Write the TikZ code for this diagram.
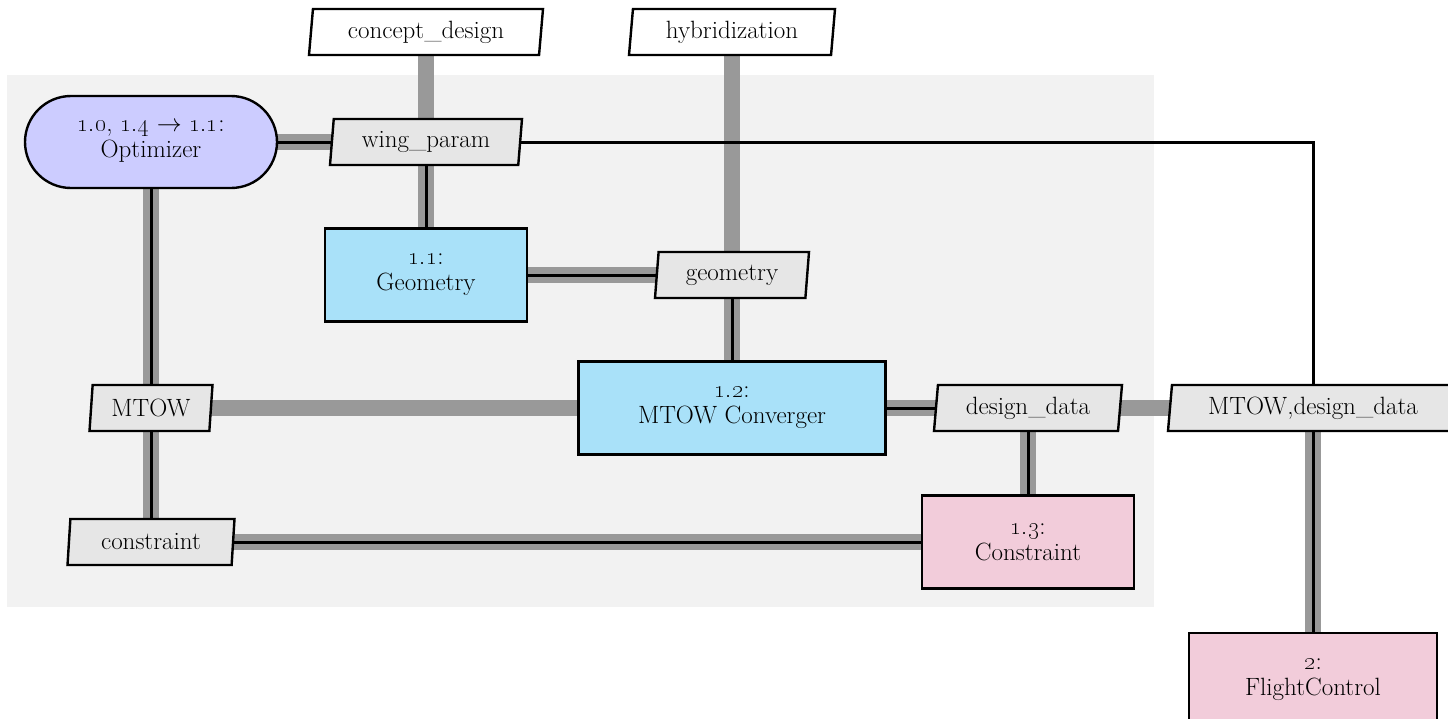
\documentclass[tikz,border=0pt]{standalone}
\usetikzlibrary{shapes.geometric}
\definecolor{panelc}{HTML}{F2F2F2}
\definecolor{optc}{HTML}{CCCCFF}
\definecolor{funcc}{HTML}{A9E1F9}
\definecolor{grpc}{HTML}{F2CCDA}
\definecolor{datac}{HTML}{E6E6E6}
\definecolor{linec}{HTML}{999999}
\pgfdeclarelayer{back}
\pgfdeclarelayer{edges}
\pgfsetlayers{back,edges,main}
\newcommand\osn[1]{\oldstylenums{#1}}

\begin{document}
\begin{tikzpicture}[x=1pt, y=-1pt,
  font=\fontsize{25}{26}\selectfont,
  blk/.style={draw=black, line width=2.4pt, align=center, inner sep=0pt},
  optbox/.style={blk, rectangle, rounded corners=46pt, fill=optc,
    minimum width=252pt, minimum height=92pt},
  funcbox/.style={blk, rectangle, fill=funcc, minimum height=93pt},
  grpbox/.style={blk, rectangle, fill=grpc, minimum height=93pt},
  databox/.style={blk, trapezium, trapezium left angle=80,
    trapezium right angle=100, trapezium stretches body,
    fill=datac, minimum height=46pt},
  inbox/.style={databox, fill=white},
  dline/.style={draw=linec, line width=16pt},
  pline/.style={draw=black, line width=3pt},
]
\useasboundingbox (0,0) rectangle (1448,718);

% inputs
\node[inbox, minimum width=234pt] (cd) at (426,32) {concept\_design};
\node[inbox, minimum width=206pt] (hy) at (732,32) {hybridization};

% optimizer row
\node[optbox] (opt) at (151,142) {\osn{1.0}, \osn{1.4} $\rightarrow$ \osn{1.1}:\\Optimizer};
\node[databox, minimum width=192pt] (wing) at (426,142) {wing\_param};

% geometry row
\node[funcbox, minimum width=202pt] (geo) at (426,275) {\osn{1.1}:\\Geometry};
\node[databox, minimum width=154pt] (geom) at (732,275) {geometry};

% converger row
\node[databox, minimum width=123pt] (mtow) at (151,408) {MTOW};
\node[funcbox, minimum width=307pt] (conv) at (732,408) {\osn{1.2}:\\MTOW Converger};
\node[databox, minimum width=188pt] (dd) at (1028,408) {design\_data};
\node[databox, minimum width=290pt] (mdd) at (1313,408) {MTOW,design\_data};

% constraint row
\node[databox, minimum width=167pt] (con) at (151,542) {constraint};
\node[grpbox, minimum width=212pt] (cbox) at (1028,542) {\osn{1.3}:\\Constraint};

% flight control
\node[grpbox, minimum width=248pt, minimum height=94pt] (fc) at (1313,680) {\osn{2}:\\FlightControl};

\begin{pgfonlayer}{back}
  \fill[panelc] (7,75) rectangle (1154,607);
\end{pgfonlayer}

\begin{pgfonlayer}{edges}
  % data connections
  \draw[dline] (cd.center) -- (wing.center);
  \draw[dline] (hy.center) -- (geom.center);
  \draw[dline] (opt.center) -- (wing.center);
  \draw[dline] (wing.center) -- (geo.center);
  \draw[dline] (opt.center) -- (mtow.center);
  \draw[dline] (mtow.center) -- (con.center);
  \draw[dline] (geo.center) -- (geom.center);
  \draw[dline] (geom.center) -- (conv.center);
  \draw[dline] (mtow.center) -- (conv.center);
  \draw[dline] (conv.center) -- (dd.center);
  \draw[dline] (dd.center) -- (mdd.center);
  \draw[dline] (dd.center) -- (cbox.center);
  \draw[dline] (con.center) -- (cbox.center);
  \draw[dline] (mdd.center) -- (fc.center);
  % process connections
  \draw[pline] (opt.center) -- (wing.center);
  \draw[pline] (wing.center) -- (geo.center);
  \draw[pline] (wing.center) -| (mdd.center);
  \draw[pline] (opt.center) -- (mtow.center);
  \draw[pline] (mtow.center) -- (con.center);
  \draw[pline] (geo.center) -- (geom.center);
  \draw[pline] (geom.center) -- (conv.center);
  \draw[pline] (conv.center) -- (dd.center);
  \draw[pline] (dd.center) -- (cbox.center);
  \draw[pline] (con.center) -- (cbox.center);
  \draw[pline] (mdd.center) -- (fc.center);
\end{pgfonlayer}
\end{tikzpicture}
\end{document}
